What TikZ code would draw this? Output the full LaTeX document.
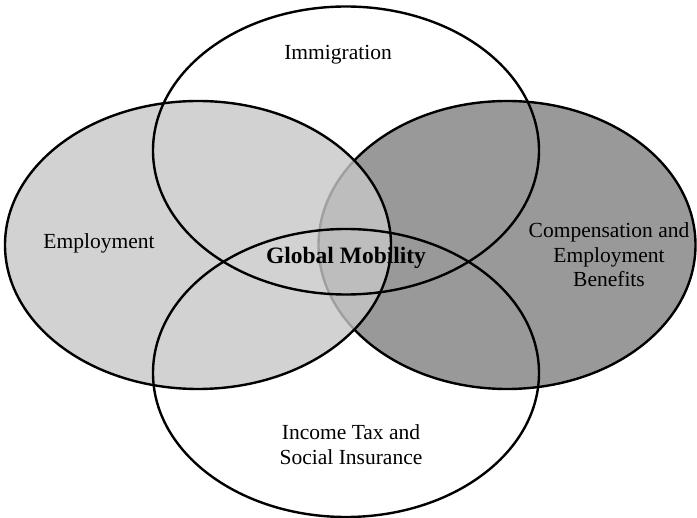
\documentclass[tikz,border=0pt]{standalone}
\usepackage{fontspec}
\setmainfont{Liberation Serif}
\usetikzlibrary{positioning,shapes}

\begin{document}
\begin{tikzpicture}[x=1pt, y=-1pt,
	venn/.style={draw, line width=2.4pt, shape=ellipse, style={minimum width=386pt, minimum height=288pt}, inner sep=0pt},
	lbl/.style={align=center, font=\fontsize{21.5}{24.5}\selectfont}]
	\useasboundingbox (0,0) rectangle (697,518);
	\node[venn, fill=black!40, style={minimum width=377pt}] (comp) at (507,245) {};
	\node[venn, fill=black!22, fill opacity=0.8] (empl) at (198,245) {};
	\node[venn] (immi) at (346,150.5) {};
	\node[venn] (tax) at (346,373) {};
	\node[lbl] (immitext) at (338,55) {Immigration};
	\node[lbl] (empltext) at (99,243) {Employment};
	\node[lbl] (comptext) at (609,255) {Compensation and\\Employment\\Benefits};
	\node[lbl] (taxtext) at (351,444.5) {Income Tax and\\Social Insurance};
	\node[lbl, font=\fontsize{23.5}{26}\selectfont\bfseries] (core) at (346,258) {Global Mobility};
\end{tikzpicture}
\end{document}
